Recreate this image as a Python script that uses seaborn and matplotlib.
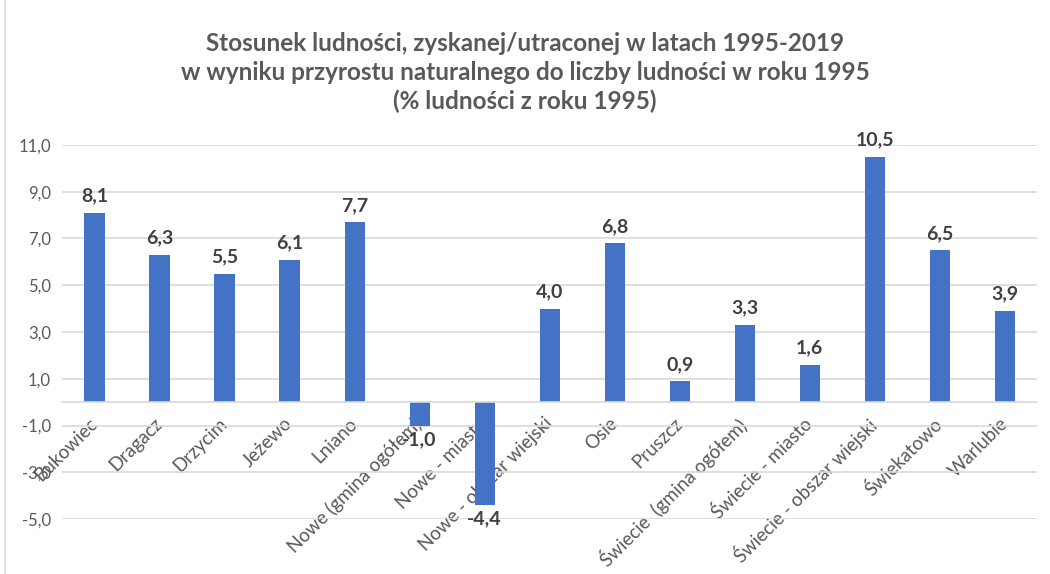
import matplotlib
matplotlib.use("Agg")
import matplotlib.pyplot as plt
import matplotlib.transforms as mtransforms
import seaborn as sns
import pandas as pd
from matplotlib.lines import Line2D

categories = ["Bukowiec", "Dragacz", "Drzycim", "Jeżewo", "Lniano",
              "Nowe (gmina ogółem)", "Nowe - miasto", "Nowe - obszar wiejski",
              "Osie", "Pruszcz", "Świecie  (gmina ogółem)", "Świecie - miasto",
              "Świecie - obszar wiejski", "Świekatowo", "Warlubie"]
values = [8.1, 6.3, 5.5, 6.1, 7.7, -1.0, -4.4, 4.0, 6.8, 0.9, 3.3, 1.6, 10.5, 6.5, 3.9]
yticks = [-5, -3, -1, 1, 3, 5, 7, 9, 11]
title = ("Stosunek ludności, zyskanej/utraconej w latach 1995-2019\n"
         "w wyniku przyrostu naturalnego do liczby ludności w roku 1995\n"
         "(% ludności z roku 1995)")

sns.set_theme(style="white")
plt.rcParams['font.family'] = ['Lato', 'DejaVu Sans']

df = pd.DataFrame({"cat": categories, "val": values})

fig = plt.figure(figsize=(10.5, 5.74), dpi=100)
ax = fig.add_axes([0.059, 0.0958, 0.929, 0.6516])

sns.barplot(data=df, x="cat", y="val", order=categories, color="#4472C4",
            width=0.31, saturation=1, ax=ax, edgecolor="none")

ax.set_xlim(-0.5, len(categories) - 0.5)
ax.set_ylim(-5, 11)
ax.set_yticks(yticks)
ax.set_yticklabels([f"{v:.1f}".replace(".", ",") for v in yticks],
                   color="#595959", fontsize=12)
ax.grid(axis="y", color="#D9D9D9", linewidth=1.2)
ax.set_axisbelow(True)
for s in ["top", "right", "left"]:
    ax.spines[s].set_visible(False)
ax.spines["bottom"].set_position(("data", 0))
ax.spines["bottom"].set_color("#D9D9D9")
ax.spines["bottom"].set_linewidth(1.2)
ax.tick_params(axis="both", length=0)
ax.tick_params(axis="y", pad=8)
ax.tick_params(axis="x", pad=4)
ax.set_xlabel("")
ax.set_ylabel("")
ax.set_xticks(range(len(categories)))
ax.set_xticklabels(categories, rotation=45, ha="right", color="#595959",
                   fontsize=13.5)
offset = mtransforms.ScaledTranslation(6 / 100, -7 / 100, fig.dpi_scale_trans)
for t in ax.get_xticklabels():
    t.set_transform(t.get_transform() + offset)

for i, v in enumerate(values):
    lbl = f"{v:.1f}".replace(".", ",")
    if v >= 0:
        ax.annotate(lbl, (i, v), xytext=(0, 6), textcoords="offset points",
                    ha="center", va="bottom", fontsize=14, fontweight="bold",
                    color="#404040")
    else:
        ax.annotate(lbl, (i, v), xytext=(0, -4), textcoords="offset points",
                    ha="center", va="top", fontsize=14, fontweight="bold",
                    color="#404040")

fig.suptitle(title, y=0.945, fontsize=17.5, fontweight="bold", color="#595959",
             linespacing=1.32)

fig.add_artist(Line2D([5 / 1050, 5 / 1050], [0, 1], transform=fig.transFigure,
                      color="#D9D9D9", linewidth=1.2))

fig.savefig("out.png", dpi=100)
